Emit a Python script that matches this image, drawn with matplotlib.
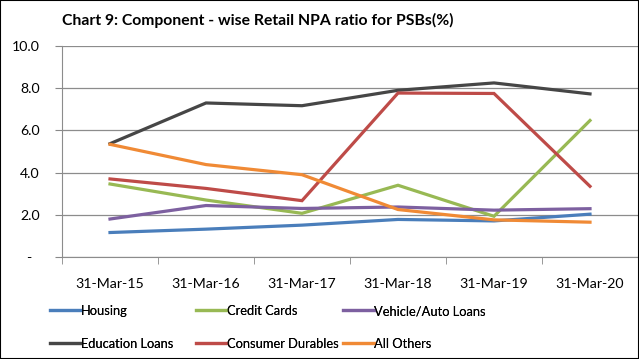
import matplotlib
matplotlib.use("Agg")
import matplotlib.pyplot as plt
from matplotlib.ticker import FuncFormatter

plt.rcParams['font.family'] = ['Lato', 'DejaVu Sans']

# data
dates = ['31-Mar-15', '31-Mar-16', '31-Mar-17', '31-Mar-18', '31-Mar-19', '31-Mar-20']
housing = [1.16, 1.32, 1.51, 1.78, 1.71, 2.03]
credit_cards = [3.46, 2.70, 2.07, 3.40, 1.93, 6.47]
vehicle_auto = [1.80, 2.44, 2.30, 2.37, 2.22, 2.29]
education = [5.37, 7.30, 7.17, 7.90, 8.25, 7.73]
consumer_durables = [3.70, 3.25, 2.67, 7.77, 7.75, 3.35]
all_others = [5.34, 4.38, 3.90, 2.25, 1.76, 1.65]

series = [
    ('Housing', housing, '#4A7EBB'),
    ('Credit Cards', credit_cards, '#98B954'),
    ('Vehicle/Auto Loans', vehicle_auto, '#7D60A0'),
    ('Education Loans', education, '#464646'),
    ('Consumer Durables', consumer_durables, '#BE4B48'),
    ('All Others', all_others, '#F08A35'),
]

fig = plt.figure(figsize=(6.39, 3.59), dpi=100)
ax = fig.add_axes([62 / 639, 1 - 257 / 359, 576 / 639, 211 / 359])

x = range(len(dates))
lines = []
for name, vals, col in series:
    ln, = ax.plot(x, vals, color=col, linewidth=2.3, label=name, solid_joinstyle='miter')
    lines.append(ln)

ax.set_xlim(-0.5, len(dates) - 0.5)
ax.set_ylim(0, 10)
ax.set_yticks([0, 2, 4, 6, 8, 10])
ax.yaxis.set_major_formatter(FuncFormatter(lambda v, p: '-  ' if v == 0 else f'{v:.1f}'))
ax.set_xticks(list(x))
ax.set_xticklabels(dates)
ax.set_xticks([i - 0.5 for i in range(len(dates) + 1)], minor=True)
ax.tick_params(axis='x', which='major', length=0, pad=15, labelsize=10.2, colors='black')
ax.tick_params(axis='x', which='minor', length=5, color='#888888')
ax.tick_params(axis='y', length=5, color='#888888', labelsize=10.2, pad=11)
ax.grid(axis='y', color='#8c8c8c', linewidth=0.9)
ax.set_axisbelow(True)
for s in ['top', 'right']:
    ax.spines[s].set_visible(False)
for s in ['left', 'bottom']:
    ax.spines[s].set_color('#8c8c8c')

fig.text(258 / 639, 1 - 20 / 359, 'Chart 9: Component - wise Retail NPA ratio for PSBs(%)',
         ha='center', va='center', fontsize=11.3, fontweight='bold')

# legend: three fixed-width columns, two rows
col_x = [50, 196, 343]
for c in range(3):
    hs = [lines[c], lines[c + 3]]
    leg = fig.legend(hs, [h.get_label() for h in hs], loc='upper left',
                     bbox_to_anchor=(col_x[c] / 639, 1 - 305 / 359), frameon=False,
                     fontsize=9.3, handlelength=2.4, handletextpad=0.0,
                     borderpad=0, borderaxespad=0, labelspacing=1.6)
    fig.add_artist(leg)

# figure border
fig.patches.append(plt.Rectangle((0, 0), 1, 1, transform=fig.transFigure,
                                 fill=False, edgecolor='black', linewidth=1.5))

fig.savefig('out.png', dpi=100)
